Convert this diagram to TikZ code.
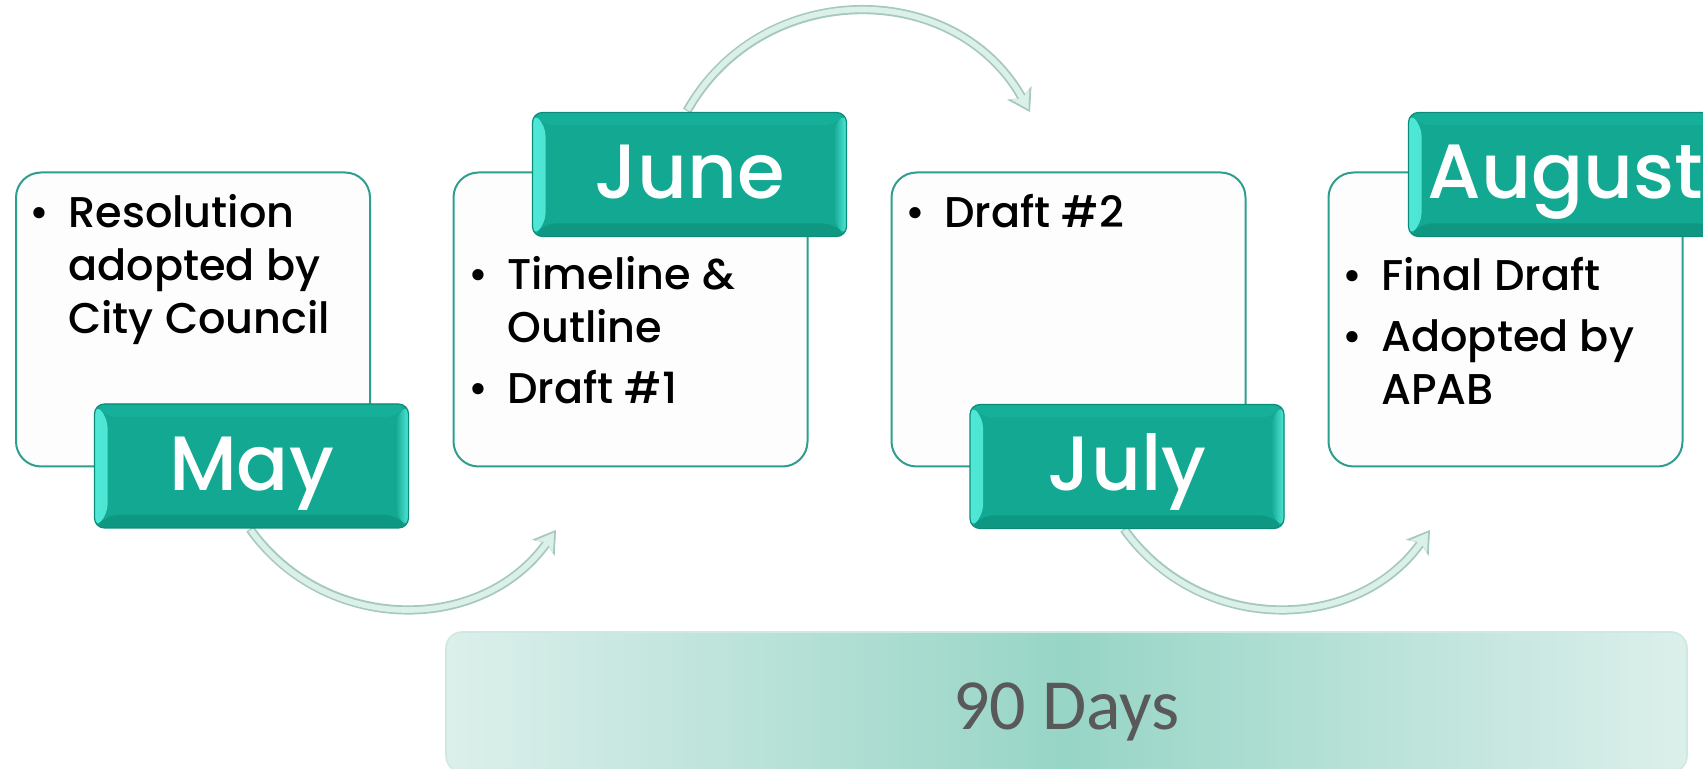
\documentclass[tikz,border=0pt]{standalone}
\usepackage{fontspec}
\setmainfont{Poppins}
\newfontfamily\bodyfam{Poppins Medium}
\newfontfamily\daysfont{Carlito}
\usetikzlibrary{arrows.meta,calc}
\definecolor{tealmain}{HTML}{12A892}
\definecolor{tealdark}{HTML}{0B8C79}
\definecolor{tealbot}{HTML}{0E9884}
\definecolor{tealtop}{HTML}{16B09A}
\definecolor{bevelhi}{HTML}{4FE8D6}
\definecolor{boxedge}{HTML}{2E9E8E}
\definecolor{boxfill}{HTML}{FDFDFD}
\definecolor{arrowfill}{HTML}{DCF0EA}
\definecolor{arrowedge}{HTML}{A5C8BF}
\definecolor{baredge}{HTML}{DCEFEB}
\definecolor{barmid}{HTML}{97D5C6}
\definecolor{barline}{HTML}{D0E8E2}
\definecolor{daysgray}{HTML}{595959}
\newcommand{\bodyfont}{\bodyfam\fontsize{21.5pt}{26.5pt}\selectfont}
\newcommand{\bul}{\makebox[14.5pt][l]{\makebox[0pt]{\textbullet}}}
\newcommand{\ind}{\hspace*{14.5pt}}
\tikzset{
  contentbox/.style={draw=boxedge, line width=1pt, fill=boxfill, rounded corners=12.5pt,
    minimum width=177pt, minimum height=147pt, inner sep=0pt},
  bodytext/.style={anchor=base west, inner sep=0pt, align=left, font=\bodyfont, text=black},
  monthbox/.style={draw=tealdark, line width=0.6pt, fill=tealmain, rounded corners=5pt,
    minimum width=157pt, minimum height=62pt, inner sep=0pt, text=white,
    font=\bodyfam\fontsize{38.5pt}{46pt}\selectfont, text height=28pt, text depth=3.5pt,
    path picture={
      \fill[left color=bevelhi, right color=tealmain]
        (path picture bounding box.south west) -- (path picture bounding box.north west)
        -- ([shift={(6.5pt,-6.5pt)}]path picture bounding box.north west)
        -- ([shift={(6.5pt,6.5pt)}]path picture bounding box.south west) -- cycle;
      \fill[left color=tealmain, right color=bevelhi]
        (path picture bounding box.south east) -- (path picture bounding box.north east)
        -- ([shift={(-6.5pt,-6.5pt)}]path picture bounding box.north east)
        -- ([shift={(-6.5pt,6.5pt)}]path picture bounding box.south east) -- cycle;
      \fill[tealbot]
        (path picture bounding box.south west) -- (path picture bounding box.south east)
        -- ([shift={(-6.5pt,6.5pt)}]path picture bounding box.south east)
        -- ([shift={(6.5pt,6.5pt)}]path picture bounding box.south west) -- cycle;
      \fill[tealtop]
        (path picture bounding box.north west) -- (path picture bounding box.north east)
        -- ([shift={(-6.5pt,-6.5pt)}]path picture bounding box.north east)
        -- ([shift={(6.5pt,-6.5pt)}]path picture bounding box.north west) -- cycle;
    }},
  arrowouter/.style={draw=arrowedge, line width=4.6pt,
    -{Stealth[length=11pt, width=14pt, inset=3pt, line width=0.4pt]}},
  arrowinner/.style={draw=arrowfill, line width=2.8pt, shorten >=1.6pt, shorten <=0.6pt,
    -{Stealth[length=8.5pt, width=10.5pt, inset=2.3pt, line width=0.2pt]}},
  barbox/.style={draw=barline, line width=0.8pt, rounded corners=8pt,
    left color=baredge, right color=baredge, middle color=barmid,
    minimum width=620.5pt, minimum height=70pt, inner sep=0pt,
    text=daysgray, font=\daysfont\fontsize{36pt}{40pt}\selectfont,
    text height=30pt, text depth=3pt}
}
\begin{document}
\begin{tikzpicture}[x=0.5pt, y=-0.5pt]
\useasboundingbox (0,0) rectangle (1703,769);

% arrow end points
\coordinate (a1s) at (250,529);
\coordinate (a1e) at (556,530);
\coordinate (a2s) at (687,111);
\coordinate (a2e) at (1030,112);
\coordinate (a3s) at (1124,529);
\coordinate (a3e) at (1430,530);

% arrows (behind)
\draw[arrowouter] (a1s) .. controls (325,634) and (481,635) .. (a1e);
\draw[arrowinner] (a1s) .. controls (325,634) and (481,635) .. (a1e);
\draw[arrowouter] (a2s) .. controls (762,-22) and (955,-22) .. (a2e);
\draw[arrowinner] (a2s) .. controls (762,-22) and (955,-22) .. (a2e);
\draw[arrowouter] (a3s) .. controls (1199,634) and (1355,635) .. (a3e);
\draw[arrowinner] (a3s) .. controls (1199,634) and (1355,635) .. (a3e);

% content boxes
\node[contentbox] (b1) at (193,319.5) {};
\node[contentbox] (b2) at (630.5,319.5) {};
\node[contentbox] (b3) at (1068.5,319.5) {};
\node[contentbox] (b4) at (1505.5,319.5) {};

% content texts
\node[bodytext] (t1) at (39,228) {\begin{tabular}[t]{@{}l@{}}\bul Resolution\\\ind adopted by\\\ind City Council\end{tabular}};
\node[bodytext] (t2) at (478,290) {\begin{tabular}[t]{@{}l@{}}\bul Timeline \&\\\ind Outline\\[4pt]\bul Draft \#1\end{tabular}};
\node[bodytext] (t3) at (915,228) {\bul Draft \#2};
\node[bodytext] (t4) at (1352,291) {\begin{tabular}[t]{@{}l@{}}\bul Final Draft\\[4pt]\bul Adopted by\\\ind APAB\end{tabular}};

% month labels
\node[monthbox] (may) at (251.5,466) {May};
\node[monthbox] (june) at (689.5,174.5) {June};
\node[monthbox] (july) at (1127,466.5) {July};
\node[monthbox] (aug) at (1565.5,174.5) {August};

% 90 days bar
\node[barbox] (days) at (1066.5,702) {90 Days};
\end{tikzpicture}
\end{document}
